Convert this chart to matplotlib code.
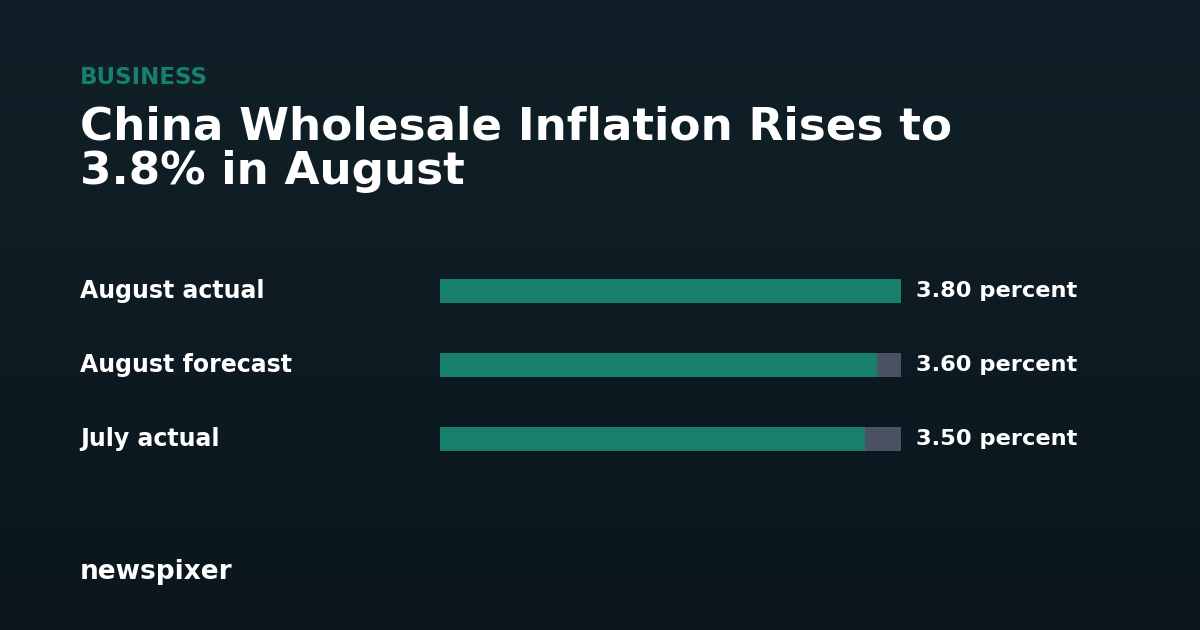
import numpy as np
import matplotlib
matplotlib.use("Agg")
import matplotlib.pyplot as plt

W, H = 1200, 630
categories = ["August actual", "August forecast", "July actual"]
values = [3.80, 3.60, 3.50]
value_labels = ["3.80 percent", "3.60 percent", "3.50 percent"]
scale_max = 3.80

fig = plt.figure(figsize=(W / 100, H / 100), dpi=100)

# background gradient
bg = fig.add_axes([0, 0, 1, 1])
grad = np.linspace(0, 1, 256).reshape(-1, 1)
top = np.array([0x11, 0x20, 0x28]) / 255
bot = np.array([0x0b, 0x16, 0x1d]) / 255
img = top + (bot - top) * grad[..., None]
bg.imshow(img, aspect="auto", extent=[0, 1, 0, 1])
bg.axis("off")

def px(x, y):
    return x / W, 1 - y / H

fig.text(*px(80, 77), "BUSINESS", color="#17806a", fontsize=16.5, fontweight="bold", va="center")
fig.text(*px(80, 149), "China Wholesale Inflation Rises to\n3.8% in August", color="white",
         fontsize=32.6, fontweight="bold", va="center", linespacing=1.03)
fig.text(*px(80, 572), "newspixer", color="white", fontsize=19, fontweight="bold", va="center")

# bars
x0, x1, ytop, ybot = 440, 901, 250, 480
ax = fig.add_axes([x0 / W, 1 - ybot / H, (x1 - x0) / W, (ybot - ytop) / H])
ax.set_xlim(0, scale_max)
ax.set_ylim(2 + 41 / 74, -41 / 74)
ax.axis("off")
idx = np.arange(len(categories))
ax.barh(idx, [scale_max] * len(values), height=0.32, color="#4a5262")
ax.barh(idx, values, height=0.32, color="#17806a")
for i, (cat, lab) in enumerate(zip(categories, value_labels)):
    ax.text(-(x0 - 80) / (x1 - x0) * scale_max, i, cat, color="white", fontsize=17,
            fontweight="bold", va="center", ha="left")
    ax.text(scale_max * (1 + 15 / (x1 - x0)), i, lab, color="white", fontsize=16.2,
            fontweight="bold", va="center", ha="left")

fig.savefig("out.png", dpi=100)
